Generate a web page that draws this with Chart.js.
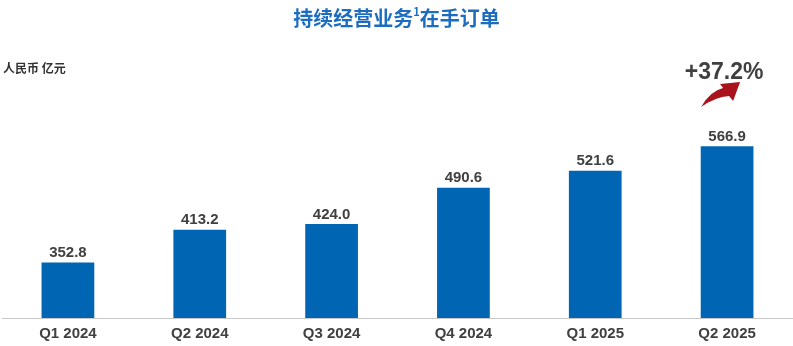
<!DOCTYPE html>
<html>
<head>
<meta charset="utf-8">
<script src="https://cdn.jsdelivr.net/npm/chart.js@4/dist/chart.umd.min.js"></script>
<style>
  html, body { margin: 0; padding: 0; background: #fff; }
  #wrap { position: relative; width: 793px; height: 346px; }
  #title {
    position: absolute; top: 3px; left: 0; width: 793px; text-align: center;
    font: bold 20px "Noto Sans CJK SC", sans-serif; color: #1c6cc0;
  }
  #title sup { font-size: 11px; position: relative; top: -2px; }
  #unit {
    position: absolute; top: 59px; left: 3px;
    font: bold 12px "Noto Sans CJK SC", sans-serif; color: #333;
  }
</style>
</head>
<body>
<div id="wrap">
  <canvas id="orderChart" width="793" height="346"></canvas>
  <div id="title">持续经营业务<sup>1</sup>在手订单</div>
  <div id="unit">人民币 亿元</div>
</div>
<script>
// Order backlog data (RMB 100m)
const quarters = ["Q1 2024", "Q2 2024", "Q3 2024", "Q4 2024", "Q1 2025", "Q2 2025"];
const backlog = [352.8, 413.2, 424.0, 490.6, 521.6, 566.9];
const growthLabel = "+37.2%";

// Draw the value above each bar, plus the growth callout on the last one
const labelPlugin = {
    id: 'barLabels',
    afterDatasetsDraw(chart) {
        const ctx = chart.ctx;
        const bars = chart.getDatasetMeta(0).data;
        ctx.save();
        ctx.fillStyle = '#404040';
        ctx.font = 'bold 15px "Liberation Sans", Arial, sans-serif';
        ctx.textAlign = 'center';
        ctx.textBaseline = 'bottom';
        bars.forEach((bar, i) => {
            ctx.fillText(backlog[i].toFixed(1), bar.x, bar.y - 2);
        });

        // growth text + red arrow over the last bar
        const last = bars[bars.length - 1];
        const cx = last.x;
        ctx.font = 'bold 23px "Liberation Sans", Arial, sans-serif';
        ctx.textBaseline = 'middle';
        ctx.fillText(growthLabel, cx - 3, 73);

        const ax = cx - 26, ay = 107; // arrow tail
        ctx.fillStyle = '#a9141c';
        ctx.beginPath();
        ctx.moveTo(ax, ay);
        ctx.quadraticCurveTo(ax + 9, ay - 16, ax + 22, ay - 19);
        ctx.lineTo(ax + 19, ay - 23);
        ctx.lineTo(ax + 39, ay - 25);
        ctx.lineTo(ax + 32, ay - 6);
        ctx.lineTo(ax + 28, ay - 11);
        ctx.quadraticCurveTo(ax + 14, ay - 10, ax, ay);
        ctx.closePath();
        ctx.fill();
        ctx.restore();
    }
};

const ctx = document.getElementById('orderChart').getContext('2d');
new Chart(ctx, {
    type: 'bar',
    data: {
        labels: quarters,
        datasets: [{
            data: backlog,
            backgroundColor: '#0066b3',
            categoryPercentage: 1.0,
            barPercentage: 0.4
        }]
    },
    options: {
        responsive: false,
        animation: false,
        layout: { padding: { top: 40, left: 2, right: 0, bottom: -4 } },
        plugins: {
            legend: { display: false },
            tooltip: { enabled: false }
        },
        scales: {
            x: {
                grid: { display: false, drawTicks: false },
                border: { display: true, color: '#c8c8c8', width: 1 },
                ticks: {
                    color: '#404040',
                    padding: 7,
                    font: { family: '"Liberation Sans", Arial, sans-serif', size: 15, weight: 'bold' }
                }
            },
            y: {
                display: false,
                min: 251,
                max: 762
            }
        }
    },
    plugins: [labelPlugin]
});
</script>
</body>
</html>
